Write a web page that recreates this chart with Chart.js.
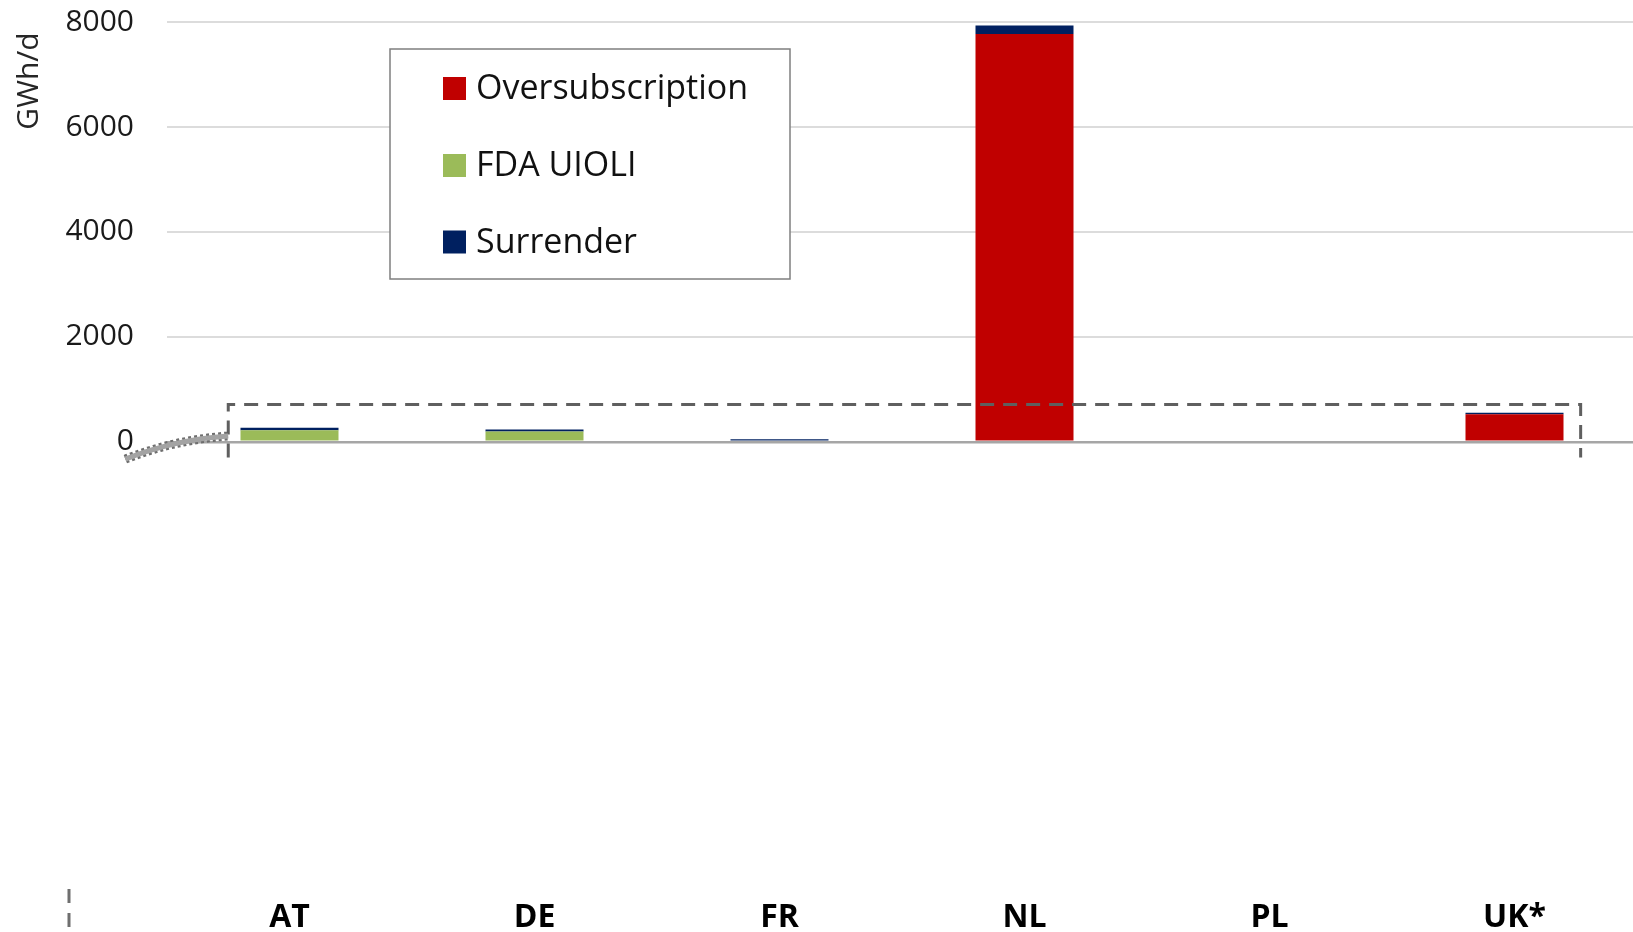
<!DOCTYPE html>
<html>
<head>
<meta charset="utf-8">
<script src="https://cdn.jsdelivr.net/npm/chart.js@4.4.1/dist/chart.umd.min.js"></script>
<style>
  html, body { margin: 0; padding: 0; background: #ffffff; overflow: hidden; }
  #wrap { width: 1637px; height: 932px; }
</style>
</head>
<body>
<div id="wrap"><canvas id="c" width="1637" height="932"></canvas></div>
<script>
// ---- data ----
const categories = ['AT', 'DE', 'FR', 'NL', 'PL', 'UK*'];
const seriesNames = ['Oversubscription', 'FDA UIOLI', 'Surrender'];
const oversubscription = [0, 0, 0, 7770, 0, 525];
const fdaUioli = [223, 196, 0, 0, 0, 0];
const surrender = [45, 38, 50, 165, 0, 30];
const yTickValues = [0, 2000, 4000, 6000, 8000];
const yAxisTitle = 'GWh/d';

// ---- axis range / styles / annotation placement ----
const yMin = -8540, yMax = 8000;
const colors = ['#C00000', '#9BBB59', '#002060'];
const FONT = '"Open Sans", "Liberation Sans", sans-serif';
const zoomBox = { xFrom: -0.25, xTo: 5.27, yTop: 712, yBottom: -300 };

const extras = {
  id: 'extras',
  afterDraw(chart) {
    const ctx = chart.ctx;
    const xs = chart.scales.x, ys = chart.scales.y;
    ctx.save();

    // dashed zoom box
    const bl = xs.getPixelForValue(zoomBox.xFrom);
    const br = xs.getPixelForValue(zoomBox.xTo);
    const bt = ys.getPixelForValue(zoomBox.yTop);
    const bb = ys.getPixelForValue(zoomBox.yBottom);
    ctx.strokeStyle = '#5F5F5F';
    ctx.lineWidth = 3;
    ctx.setLineDash([14, 9]);
    ctx.beginPath();
    ctx.moveTo(bl, bb);
    ctx.lineTo(bl, bt);
    ctx.lineTo(br, bt);
    ctx.lineTo(br, bb);
    ctx.stroke();

    // dotted connector curve
    const x0 = xs.getPixelForValue(-0.67), y0 = ys.getPixelForValue(-330);
    const cx = xs.getPixelForValue(-0.47), cy = ys.getPixelForValue(40);
    const x1 = bl, y1 = ys.getPixelForValue(110);
    ctx.setLineDash([3, 3]);
    ctx.lineWidth = 9;
    ctx.strokeStyle = '#6E6E6E';
    ctx.beginPath(); ctx.moveTo(x0, y0); ctx.quadraticCurveTo(cx, cy, x1, y1); ctx.stroke();
    ctx.setLineDash([]);
    ctx.lineWidth = 5;
    ctx.strokeStyle = '#A3A3A3';
    ctx.beginPath(); ctx.moveTo(x0, y0); ctx.quadraticCurveTo(cx, cy, x1, y1); ctx.stroke();

    // small dashed mark bottom-left
    ctx.strokeStyle = '#6F6F6F';
    ctx.lineWidth = 3;
    ctx.setLineDash([14, 10]);
    ctx.beginPath(); ctx.moveTo(69, 889); ctx.lineTo(69, 940); ctx.stroke();
    ctx.setLineDash([]);

    // y axis title
    ctx.save();
    ctx.translate(29, 81);
    ctx.rotate(-Math.PI / 2);
    ctx.font = '30px ' + FONT;
    ctx.fillStyle = '#262626';
    ctx.textAlign = 'center';
    ctx.textBaseline = 'middle';
    ctx.fillText(yAxisTitle, 0, 0);
    ctx.restore();

    // legend
    const lx = 390, ly = 49, lw = 400, lh = 230;
    ctx.fillStyle = '#FFFFFF';
    ctx.fillRect(lx, ly, lw, lh);
    ctx.strokeStyle = '#7F7F7F';
    ctx.lineWidth = 1.5;
    ctx.strokeRect(lx, ly, lw, lh);
    const rowY = [88.5, 165.5, 242];
    ctx.font = '34px ' + FONT;
    ctx.textAlign = 'left';
    ctx.textBaseline = 'middle';
    chart.data.datasets.forEach((ds, i) => {
      ctx.fillStyle = ds.backgroundColor;
      ctx.fillRect(443, rowY[i] - 11.5, 23, 23);
      ctx.fillStyle = '#111111';
      ctx.fillText(ds.label, 476, rowY[i] + 1);
    });
    ctx.restore();
  }
};

new Chart(document.getElementById('c'), {
  type: 'bar',
  data: {
    labels: categories,
    datasets: [
      { label: seriesNames[0], data: oversubscription, backgroundColor: colors[0] },
      { label: seriesNames[1], data: fdaUioli, backgroundColor: colors[1] },
      { label: seriesNames[2], data: surrender, backgroundColor: colors[2] }
    ]
  },
  options: {
    responsive: false,
    animation: false,
    layout: { padding: { top: 22, left: 0, right: 0, bottom: 0 } },
    datasets: { bar: { categoryPercentage: 1, barPercentage: 0.4, borderWidth: 0 } },
    plugins: { legend: { display: false }, tooltip: { enabled: false }, title: { display: false } },
    scales: {
      x: {
        stacked: true,
        grid: { display: false, drawTicks: false },
        border: { display: false },
        ticks: { color: '#000000', font: { family: FONT, size: 32, weight: 'bold' }, padding: 9, maxRotation: 0 },
        afterFit(scale) { scale.height = 42; scale.paddingLeft = 0; scale.paddingRight = 0; scale.paddingTop = 0; scale.paddingBottom = 0; }
      },
      y: {
        stacked: true,
        min: yMin,
        max: yMax,
        afterBuildTicks(scale) { scale.ticks = yTickValues.map(v => ({ value: v })); },
        grid: {
          drawTicks: false,
          color: (c) => (c.tick && c.tick.value === 0 ? '#A6A6A6' : '#DCDCDC'),
          lineWidth: (c) => (c.tick && c.tick.value === 0 ? 2.5 : 2)
        },
        border: { display: false },
        ticks: { color: '#1A1A1A', font: { family: FONT, size: 30 }, padding: 33, callback: (v) => String(v) },
        afterFit(scale) { scale.width = 167; scale.paddingTop = 0; scale.paddingBottom = 0; scale.paddingLeft = 0; scale.paddingRight = 0; }
      }
    }
  },
  plugins: [extras]
});
</script>
</body>
</html>
